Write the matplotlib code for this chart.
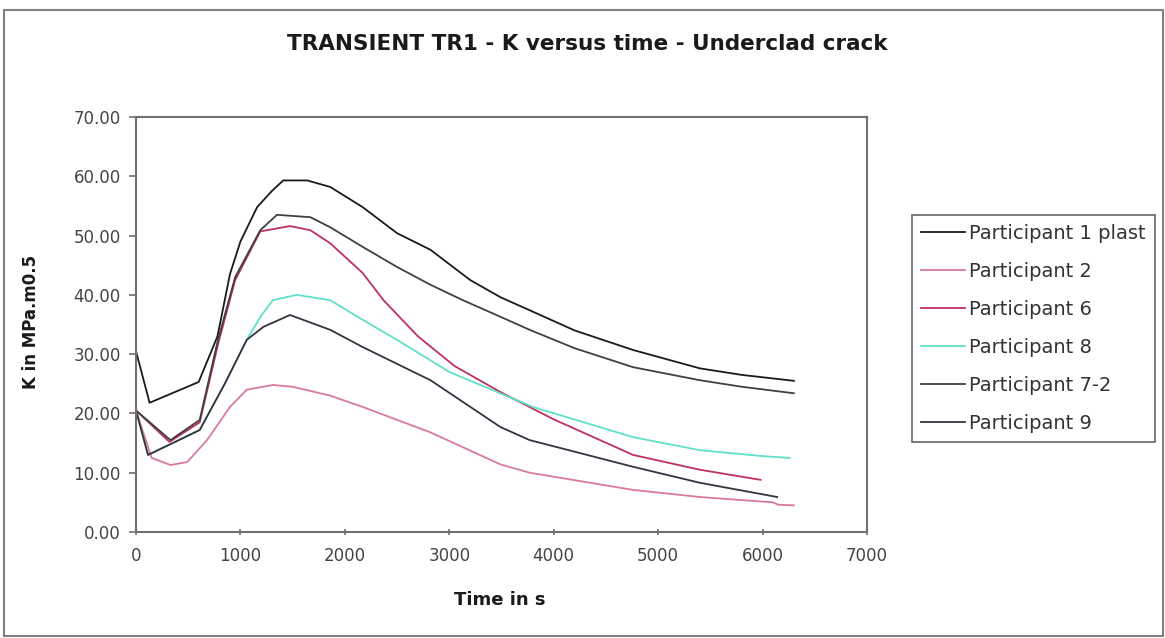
import matplotlib
matplotlib.use("Agg")
import matplotlib.pyplot as plt
from matplotlib.patches import Rectangle

# K (MPa.m0.5) versus time (s)
t_p1 = [0, 130, 600, 780, 900, 1000, 1160, 1300, 1410, 1640, 1860, 2170, 2500,
        2820, 3200, 3490, 3770, 4200, 4760, 5400, 5800, 6300]
k_p1 = [30.5, 21.8, 25.3, 33.0, 43.5, 49.0, 54.8, 57.5, 59.3, 59.3, 58.2, 54.8,
        50.4, 47.6, 42.5, 39.6, 37.4, 34.0, 30.7, 27.6, 26.5, 25.5]

t_p2 = [0, 150, 330, 490, 680, 900, 1060, 1310, 1500, 1860, 2170, 2820, 3490,
        3770, 4760, 5400, 6100, 6150, 6300]
k_p2 = [20.5, 12.5, 11.3, 11.8, 15.5, 21.1, 24.0, 24.8, 24.5, 23.0, 21.1, 16.8,
        11.4, 10.0, 7.1, 5.9, 5.0, 4.6, 4.5]

t_p6 = [0, 320, 610, 790, 950, 1190, 1475, 1670, 1860, 2170, 2370, 2700, 3050,
        3490, 4000, 4760, 5400, 5980]
k_p6 = [20.5, 15.2, 18.5, 32.0, 42.5, 50.7, 51.6, 50.9, 48.7, 43.7, 39.1, 33.0,
        28.0, 23.6, 19.0, 13.0, 10.5, 8.8]

t_p8 = [0, 115, 610, 850, 1060, 1200, 1310, 1540, 1860, 2170, 2500, 3000, 3500,
        3800, 4760, 5400, 6000, 6260]
k_p8 = [20.5, 13.0, 17.2, 25.0, 32.4, 36.5, 39.1, 40.0, 39.1, 35.8, 32.4, 27.0,
        23.3, 21.1, 16.0, 13.8, 12.8, 12.5]

t_p72 = [0, 330, 610, 785, 950, 1190, 1350, 1670, 1860, 2170, 2500, 2820, 3130,
         3490, 3770, 4200, 4760, 5400, 5800, 6300]
k_p72 = [20.5, 15.5, 18.9, 32.4, 43.0, 50.9, 53.5, 53.1, 51.4, 48.1, 44.7, 41.7,
         39.1, 36.3, 34.1, 31.0, 27.8, 25.6, 24.5, 23.4]

t_p9 = [0, 115, 610, 850, 1060, 1220, 1475, 1860, 2170, 2820, 3490, 3770, 4760,
        5400, 6140]
k_p9 = [20.5, 13.0, 17.2, 25.0, 32.4, 34.6, 36.6, 34.1, 31.2, 25.6, 17.7, 15.5,
        11.0, 8.3, 5.9]

labels = ["Participant 1 plast", "Participant 2", "Participant 6",
          "Participant 8", "Participant 7-2", "Participant 9"]
colors = ["#1a1a1a", "#d87a9a", "#c0305a", "#60e0c8", "#404040", "#3a3040"]

x_ticks = [0, 1000, 2000, 3000, 4000, 5000, 6000, 7000]
y_ticks = [0, 10, 20, 30, 40, 50, 60, 70]

W, H = 1165, 638
fig = plt.figure(figsize=(W / 100, H / 100), dpi=100)

# chart area border
fig.patches.append(Rectangle((4 / W, 2 / H), 1159 / W, 626 / H, transform=fig.transFigure,
                             fill=False, edgecolor="#808080", linewidth=1.5))

ax = fig.add_axes([136 / W, 1 - 532 / H, (867 - 136) / W, (532 - 117) / H])

series = [(t_p1, k_p1), (t_p2, k_p2), (t_p6, k_p6), (t_p8, k_p8), (t_p72, k_p72), (t_p9, k_p9)]
for (t, k), lab, col in zip(series, labels, colors):
    ax.plot(t, k, color=col, linewidth=1.3, label=lab)

ax.set_xlim(0, 7000)
ax.set_ylim(0, 70)
ax.set_xticks(x_ticks)
ax.set_yticks(y_ticks)
ax.set_xticklabels([str(v) for v in x_ticks])
ax.set_yticklabels([f"{v:.2f}" for v in y_ticks])
ax.tick_params(axis="both", labelsize=12, colors="#707070", labelcolor="#444444",
               length=5, width=1.2)
ax.tick_params(axis="x", direction="inout", pad=8)
ax.tick_params(axis="y", direction="out", pad=6)
for sp in ax.spines.values():
    sp.set_color("#707070")
    sp.set_linewidth(1.5)

fig.text(587 / W, 1 - 44 / H, "TRANSIENT TR1 - K versus time - Underclad crack",
         ha="center", va="center", fontsize=15.5, fontweight="bold", color="#1a1a1a")
fig.text(500 / W, 1 - 600 / H, "Time in s", ha="center", va="center",
         fontsize=13, fontweight="bold", color="#1a1a1a")
fig.text(31 / W, 1 - 322 / H, "K in MPa.m0.5", ha="center", va="center", rotation=90,
         fontsize=12, fontweight="bold", color="#1a1a1a")

leg = ax.legend(loc="upper left", bbox_to_anchor=(912 / W, 1 - 215 / H),
                bbox_transform=fig.transFigure, fontsize=14, frameon=True,
                fancybox=False, edgecolor="#404040", borderaxespad=0,
                labelspacing=0.98, handlelength=2.3, handletextpad=0.2,
                borderpad=0.45)
leg.get_frame().set_linewidth(1.2)
for txt in leg.get_texts():
    txt.set_color("#333333")

fig.savefig("out.png", dpi=100)
